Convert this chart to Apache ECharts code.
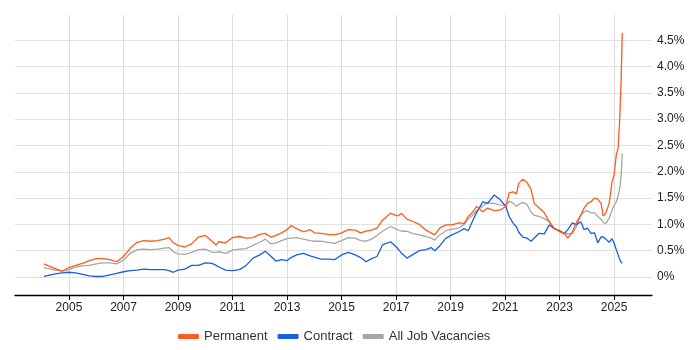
<!DOCTYPE html>
<html>
<head>
<meta charset="utf-8">
<script src="https://cdn.jsdelivr.net/npm/echarts@6/dist/echarts.min.js"></script>
<style>html,body{margin:0;padding:0;background:#fff}#c{width:700px;height:350px}</style>
</head>
<body>
<div id="c"></div>
<script>
const years = [2004.08,2004.25,2004.5,2004.75,2005,2005.25,2005.5,2005.75,2006,2006.25,2006.5,2006.75,
2007,2007.25,2007.5,2007.75,2008,2008.25,2008.5,2008.67,2008.83,2009,2009.25,2009.5,2009.75,
2010,2010.25,2010.4,2010.5,2010.75,2011,2011.25,2011.5,2011.75,2012,2012.2,2012.4,2012.6,2012.8,
2013,2013.15,2013.35,2013.6,2013.85,2014,2014.25,2014.5,2014.75,2015,2015.25,2015.5,2015.7,2015.9,
2016.1,2016.3,2016.5,2016.8,2017.05,2017.2,2017.4,2017.6,2017.85,2018.1,2018.28,2018.42,2018.6,2018.83,
2019.05,2019.3,2019.5,2019.65,2019.82,2019.95,2020.18,2020.36,2020.6,2020.8,2021.03,2021.15,2021.3,2021.42,
2021.5,2021.65,2021.8,2021.95,2022.07,2022.25,2022.44,2022.62,2022.8,2023,2023.17,2023.3,2023.47,2023.6,
2023.78,2023.9,2024.02,2024.15,2024.28,2024.4,2024.52,2024.6,2024.7,2024.82,2024.92,2025,2025.08,2025.15,
2025.21,2025.26,2025.3];
const permanent = [0.25,0.21,0.16,0.11,0.18,0.22,0.26,0.31,0.35,0.35,0.33,0.29,
0.39,0.55,0.66,0.69,0.68,0.69,0.72,0.75,0.65,0.60,0.57,0.63,0.76,
0.79,0.68,0.61,0.67,0.65,0.75,0.77,0.74,0.75,0.81,0.83,0.76,0.79,0.84,
0.90,0.98,0.92,0.86,0.90,0.84,0.83,0.81,0.80,0.84,0.90,0.89,0.84,0.87,
0.89,0.93,1.08,1.21,1.16,1.21,1.10,1.06,1.00,0.89,0.84,0.80,0.93,0.99,
0.99,1.03,1.02,1.15,1.24,1.34,1.24,1.31,1.26,1.27,1.34,1.60,1.62,1.58,
1.78,1.86,1.80,1.67,1.40,1.31,1.22,1.05,0.93,0.86,0.84,0.74,0.86,1.02,
1.18,1.31,1.40,1.43,1.50,1.48,1.40,1.16,1.22,1.40,1.80,1.94,2.32,2.46,
3.05,3.80,4.64];
const contract = [0.01,0.03,0.06,0.08,0.09,0.08,0.05,0.02,0.01,0.01,0.04,0.07,
0.10,0.12,0.13,0.15,0.14,0.14,0.14,0.12,0.09,0.13,0.15,0.22,0.22,
0.27,0.26,0.22,0.19,0.13,0.12,0.14,0.22,0.36,0.42,0.49,0.40,0.30,0.33,
0.31,0.37,0.42,0.45,0.40,0.38,0.34,0.34,0.33,0.42,0.47,0.42,0.37,0.29,
0.35,0.39,0.61,0.67,0.55,0.45,0.36,0.42,0.50,0.52,0.56,0.50,0.59,0.74,
0.80,0.86,0.92,0.88,1.08,1.22,1.43,1.40,1.56,1.48,1.34,1.15,1.02,0.95,
0.85,0.76,0.74,0.68,0.74,0.83,0.82,0.99,0.92,0.88,0.82,0.90,1.03,0.99,
1.05,0.90,0.93,0.83,0.84,0.65,0.76,0.76,0.72,0.66,0.73,0.64,0.52,0.42,
0.33,0.28,0.26];
const allJobs = [0.18,0.16,0.13,0.11,0.14,0.19,0.21,0.22,0.25,0.27,0.27,0.25,
0.32,0.45,0.52,0.53,0.52,0.53,0.55,0.56,0.48,0.44,0.43,0.47,0.52,
0.53,0.47,0.47,0.48,0.45,0.51,0.53,0.54,0.60,0.66,0.72,0.63,0.65,0.69,
0.73,0.74,0.75,0.72,0.69,0.68,0.68,0.66,0.64,0.69,0.75,0.74,0.69,0.68,
0.72,0.79,0.87,0.96,0.90,0.87,0.87,0.83,0.80,0.77,0.74,0.70,0.80,0.88,
0.91,0.93,1.00,1.10,1.18,1.26,1.35,1.41,1.40,1.37,1.36,1.44,1.40,1.34,
1.38,1.42,1.38,1.24,1.17,1.15,1.11,1.05,0.92,0.87,0.84,0.82,0.83,0.94,
1.18,1.24,1.26,1.22,1.22,1.15,1.10,1.04,1.02,1.12,1.27,1.36,1.43,1.55,
1.70,1.95,2.35];
const xTicks = [2005,2007,2009,2011,2013,2015,2017,2019,2021,2023,2025];
const yTicks = [0,0.5,1,1.5,2,2.5,3,3.5,4,4.5];

const pair = arr => years.map((y,i)=>[y,arr[i]]);
const chart = echarts.init(document.getElementById('c'));
const font = 'Liberation Sans, Arial, sans-serif';
chart.setOption({
  animation:false,
  textStyle:{fontFamily:font},
  grid:{left:15,right:48,top:15,bottom:55,containLabel:false},
  legend:{
    bottom:2,left:173,icon:'roundRect',itemWidth:21,itemHeight:5,itemGap:10,
    textStyle:{fontSize:13,color:'#333',fontFamily:font},
    data:['Permanent','Contract','All Job Vacancies']
  },
  xAxis:{
    type:'value',min:2003.02,max:2026.39,
    axisLine:{onZero:false,lineStyle:{color:'#000',width:1.3}},
    axisTick:{show:true,length:5,lineStyle:{color:'#000'},customValues:xTicks},
    axisLabel:{customValues:xTicks,formatter:v=>String(Math.round(v)),color:'#222',fontSize:12,margin:7},
    splitLine:{show:true,lineStyle:{color:'#dcdcdc',width:1}}
  },
  yAxis:{
    type:'value',position:'right',min:-0.342,max:4.98,
    axisLine:{show:false},axisTick:{show:false,customValues:yTicks},
    axisLabel:{customValues:yTicks,formatter:v=>(v===0?'0':v.toFixed(1))+'%',color:'#222',fontSize:12,margin:5},
    splitLine:{show:true,lineStyle:{color:'#e2e2e2',width:1}}
  },
  series:[
    {name:'Permanent',type:'line',data:pair(permanent),showSymbol:false,symbol:'none',
      lineStyle:{color:'#ff5a1f',width:1.3},itemStyle:{color:'#ff5a1f'},z:3},
    {name:'Contract',type:'line',data:pair(contract),showSymbol:false,symbol:'none',
      lineStyle:{color:'#1a5fdc',width:1.3},itemStyle:{color:'#1a5fdc'},z:2},
    {name:'All Job Vacancies',type:'line',data:pair(allJobs),showSymbol:false,symbol:'none',
      lineStyle:{color:'#a6a6a6',width:1.3},itemStyle:{color:'#a6a6a6'},z:1}
  ]
});
</script>
</body>
</html>
